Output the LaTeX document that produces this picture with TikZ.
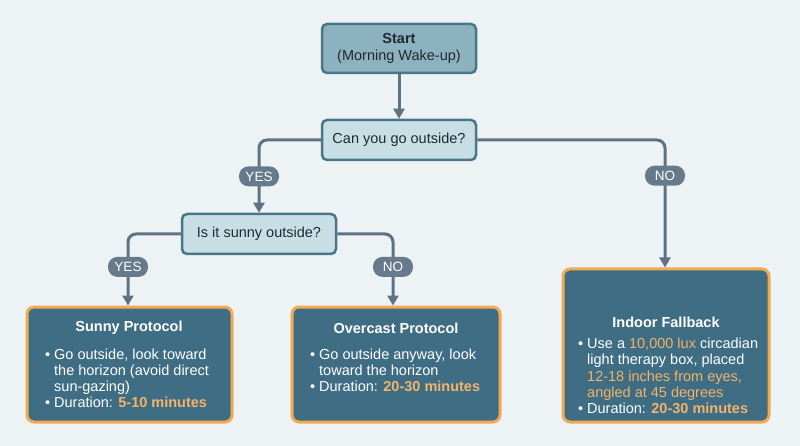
\documentclass[tikz,border=0pt]{standalone}
\usepackage{fontspec}
\setmainfont{Liberation Sans}
\usetikzlibrary{arrows.meta,positioning}
\definecolor{bgc}{HTML}{EDF3F5}
\definecolor{startfill}{HTML}{8DB2BF}
\definecolor{boxedge}{HTML}{4A7787}
\definecolor{decfill}{HTML}{C8DEE5}
\definecolor{protfill}{HTML}{3E6D84}
\definecolor{protedge}{HTML}{F2A950}
\definecolor{pillfill}{HTML}{667A8B}
\definecolor{flowc}{HTML}{5E7285}
\definecolor{hl}{HTML}{F2B36A}
\definecolor{txt}{HTML}{1E2A30}
\newcommand{\hlt}[1]{\textcolor{hl}{#1}}
\newcommand{\hlb}[1]{\textcolor{hl}{\bfseries #1}}
\newcommand{\bul}{\makebox[9pt][l]{\textbullet}}
\newcommand{\ind}{\hspace*{9pt}}
\begin{document}
\begin{tikzpicture}[x=1pt,y=-1pt,
  startbox/.style={draw=boxedge, line width=2.5pt, fill=startfill, rounded corners=5pt,
     minimum width=154pt, minimum height=49pt, align=center, text=txt,
     font=\fontsize{14.5}{17}\selectfont, inner sep=0pt},
  decbox/.style={draw=boxedge, line width=2.5pt, fill=decfill, rounded corners=5pt,
     minimum height=40pt, align=center, text=txt,
     font=\fontsize{14.5}{17}\selectfont, inner sep=0pt},
  protbox/.style={draw=protedge, line width=3pt, fill=protfill, rounded corners=7pt, inner sep=0pt},
  prottext/.style={text=white, align=left, font=\fontsize{14.5}{16.2}\selectfont, inner sep=0pt, anchor=north west},
  prottitle/.style={text=white, font=\fontsize{14.5}{17}\selectfont\bfseries, inner sep=0pt},
  pill/.style={fill=pillfill, text=white, rounded corners=9.5pt, minimum width=40pt,
     minimum height=20pt, inner sep=2pt, font=\fontsize{13.5}{15}\selectfont},
  flow/.style={draw=flowc, line width=3pt, rounded corners=8pt,
     -{Triangle[length=10pt,width=11pt]}}
]
\useasboundingbox (0,0) rectangle (800,446);
\fill[bgc] (0,0) rectangle (800,446);

% boxes
\node[startbox] (start) at (399,48.5) {\textbf{Start}\\(Morning Wake-up)};
\node[decbox, minimum width=154pt] (q1) at (399,140) {Can you go outside?};
\node[decbox, minimum width=154pt] (q2) at (259,234) {Is it sunny outside?};

\node[protbox, minimum width=205pt, minimum height=115pt] (sunny) at (129.5,364.5) {};
\node[protbox, minimum width=208pt, minimum height=115pt] (over) at (396,364.5) {};
\node[protbox, minimum width=206pt, minimum height=153pt] (indoor) at (666,345.5) {};

% protocol texts
\node[prottitle] (sunnyT) at (129,328) {Sunny Protocol};
\node[prottext] (sunnyB) at (45,348.5) {\bul Go outside, look toward\\
\ind the horizon (avoid direct\\
\ind sun-gazing)\\
\bul Duration: \hlb{5-10 minutes}};

\node[prottitle] (overT) at (396,328) {Overcast Protocol};
\node[prottext] (overB) at (310,348.5) {\bul Go outside anyway, look\\
\ind toward the horizon\\
\bul Duration: \hlb{20-30 minutes}};

\node[prottitle] (indoorT) at (666,322) {Indoor Fallback};
\node[prottext] (indoorB) at (578,338) {\bul Use a \hlt{10,000 lux} circadian\\
\ind light therapy box, placed\\
\ind \hlt{12-18 inches from eyes,}\\
\ind \hlt{angled at 45 degrees}\\
\bul Duration: \hlb{20-30 minutes}};

% connectors
\draw[flow] (start) -- (q1);
\draw[flow] (q1.west) -| node[pill, pos=0.75] (yes1) {YES} (q2.north);
\draw[flow] (q1.east) -| node[pill, pos=0.64] (no1) {NO} ([xshift=-1pt]indoor.north);
\draw[flow] (q2.west) -| node[pill, pos=0.73] (yes2) {YES} ([xshift=-1.5pt]sunny.north);
\draw[flow] (q2.east) -| node[pill, pos=0.73] (no2) {NO} ([xshift=-3pt]over.north);
\end{tikzpicture}
\end{document}
